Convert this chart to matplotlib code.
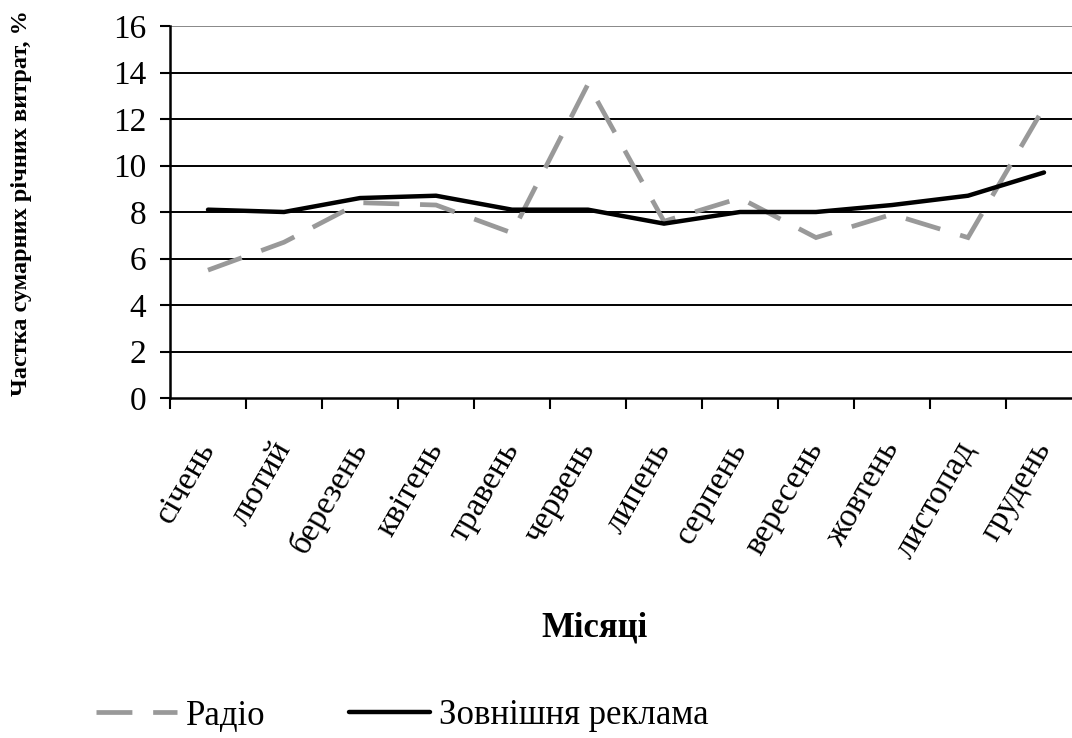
import matplotlib
matplotlib.use("Agg")
import matplotlib.pyplot as plt
import numpy as np

months = ["січень", "лютий", "березень", "квітень", "травень", "червень",
          "липень", "серпень", "вересень", "жовтень", "листопад", "грудень"]
radio = [5.5, 6.7, 8.4, 8.3, 7.1, 13.5, 7.6, 8.6, 6.9, 7.9, 6.9, 12.5]
outdoor = [8.1, 8.0, 8.6, 8.7, 8.1, 8.1, 7.5, 8.0, 8.0, 8.3, 8.7, 9.7]
yticks = [0, 2, 4, 6, 8, 10, 12, 14, 16]

plt.rcParams['font.family'] = ['Liberation Serif', 'DejaVu Serif']

fig = plt.figure(figsize=(10.72, 7.38), dpi=100)
W, H = 1072, 738
ax = fig.add_axes([170 / W, 1 - 398 / H, (1082 - 170) / W, (398 - 26) / H])

x = np.arange(len(months))
ax.plot(x, radio, color="#999999", lw=3.4, dashes=(7.6, 4.4), label="Радіо",
        dash_capstyle="butt", dash_joinstyle="miter")
ax.plot(x, outdoor, color="black", lw=3.2, label="Зовнішня реклама",
        solid_capstyle="round")

ax.set_xlim(-0.5, len(months) - 0.5)
ax.set_ylim(0, 16)
ax.set_yticks(yticks)
for v in yticks[1:]:
    ax.axhline(v, color="#888888" if v == 16 else "black", lw=1.4, zorder=0)

ax.set_xticks(x)
ax.set_xticklabels(months, rotation=60, ha="right", va="center", rotation_mode="anchor")
ax.set_xticks(np.arange(-0.5, len(months) - 0.5, 1), minor=True)
ax.tick_params(axis="x", which="major", length=0, pad=33, labelsize=24)
ax.tick_params(axis="x", which="minor", length=8, width=1.5, direction="out")
ax.tick_params(axis="y", length=7, width=1.5, direction="out", pad=10, labelsize=24)

for s in ["top", "right"]:
    ax.spines[s].set_visible(False)
ax.spines["left"].set_linewidth(1.8)
ax.spines["bottom"].set_linewidth(1.8)

fig.text(22 / W, 1 - 203 / H, "Частка сумарних річних витрат, %", rotation=90,
         ha="center", va="center", fontsize=17.5, fontweight="bold")
fig.text(595 / W, 1 - 628 / H, "Місяці", ha="center", va="center",
         fontsize=25, fontweight="bold")

fig.legend(loc="center left", bbox_to_anchor=(96 / W, 1 - 716 / H), ncol=2,
           frameon=False, fontsize=25, handlelength=2.33, handletextpad=0.26,
           columnspacing=2.4, borderpad=0, borderaxespad=0)

fig.savefig("out.png", dpi=100)
